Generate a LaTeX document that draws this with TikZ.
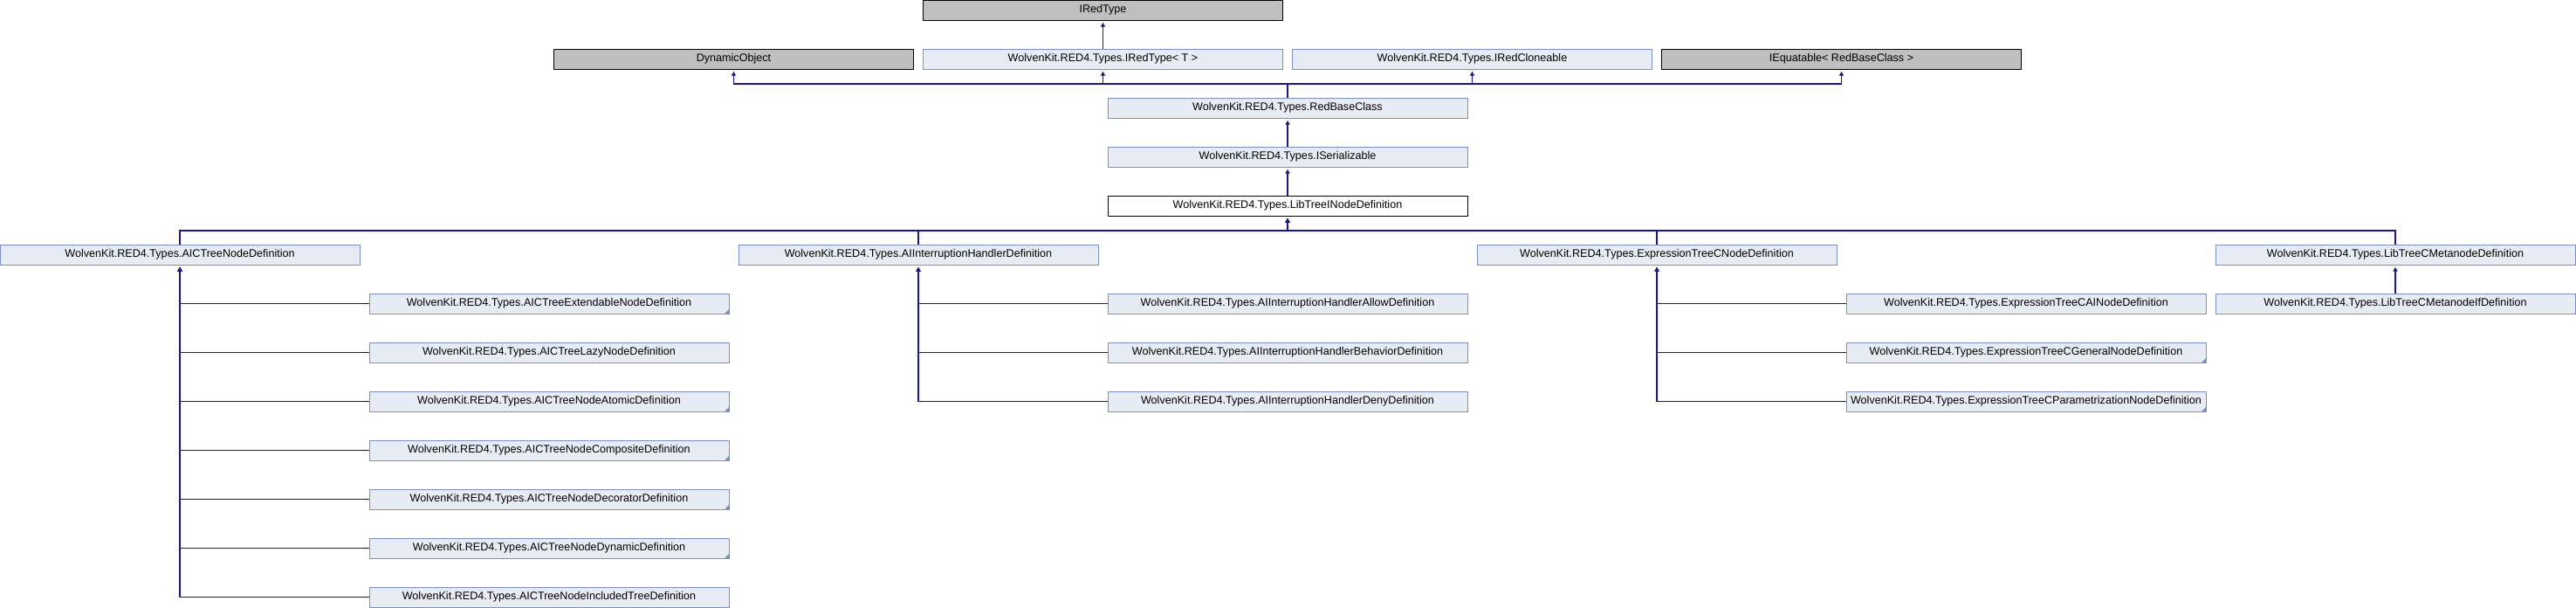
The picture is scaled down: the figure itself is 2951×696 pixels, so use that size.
\documentclass[tikz,border=0pt]{standalone}
\usepackage{fontspec}
\setmainfont{Liberation Sans}
\usetikzlibrary{arrows.meta}
\definecolor{boxfill}{RGB}{232,236,244}
\definecolor{boxedge}{RGB}{122,144,204}
\definecolor{inhline}{RGB}{24,24,150}
\tikzset{
  cls/.style={shape=rectangle,draw=boxedge,fill=boxfill,line width=0.5pt,minimum width=206pt,minimum height=11.5pt,inner sep=0pt,font=\fontsize{6.3}{7}\selectfont},
  ext/.style={cls,draw=black,fill=black!25},
  cur/.style={cls,draw=black,fill=white},
  trunc/.style={path picture={\fill[boxedge] (path picture bounding box.south east) -- ++(-2.4pt,0) -- ++(2.4pt,2.4pt) -- cycle;}},
  inh/.style={draw=inhline,line width=0.55pt,-{Triangle[width=2.6pt,length=2.4pt]},shorten >=1.2pt}
}

\begin{document}
\begin{tikzpicture}[x=0.5pt,y=-0.5pt]
\useasboundingbox (0,0) rectangle (2951,696);
\node[ext] (0) at (1263.5,11.5) {IRedType};
\node[ext] (1) at (840.5,67.5) {DynamicObject};
\node[cls] (2) at (1263.5,67.5) {WolvenKit.RED4.Types.IRedType< T >};
\node[cls] (3) at (1686.5,67.5) {WolvenKit.RED4.Types.IRedCloneable};
\node[ext] (4) at (2109.5,67.5) {IEquatable< RedBaseClass >};
\node[cls] (5) at (1475,123.5) {WolvenKit.RED4.Types.RedBaseClass};
\node[cls] (6) at (1475,179.5) {WolvenKit.RED4.Types.ISerializable};
\node[cur] (7) at (1475,235.5) {WolvenKit.RED4.Types.LibTreeINodeDefinition};
\node[cls] (8) at (206,291.5) {WolvenKit.RED4.Types.AICTreeNodeDefinition};
\node[cls] (9) at (1052,291.5) {WolvenKit.RED4.Types.AIInterruptionHandlerDefinition};
\node[cls] (10) at (1898,291.5) {WolvenKit.RED4.Types.ExpressionTreeCNodeDefinition};
\node[cls] (11) at (2744,291.5) {WolvenKit.RED4.Types.LibTreeCMetanodeDefinition};
\node[cls,trunc] (12) at (629,347.5) {WolvenKit.RED4.Types.AICTreeExtendableNodeDefinition};
\node[cls] (13) at (629,403.5) {WolvenKit.RED4.Types.AICTreeLazyNodeDefinition};
\node[cls,trunc] (14) at (629,459.5) {WolvenKit.RED4.Types.AICTreeNodeAtomicDefinition};
\node[cls,trunc] (15) at (629,515.5) {WolvenKit.RED4.Types.AICTreeNodeCompositeDefinition};
\node[cls,trunc] (16) at (629,571.5) {WolvenKit.RED4.Types.AICTreeNodeDecoratorDefinition};
\node[cls,trunc] (17) at (629,627.5) {WolvenKit.RED4.Types.AICTreeNodeDynamicDefinition};
\node[cls] (18) at (629,683.5) {WolvenKit.RED4.Types.AICTreeNodeIncludedTreeDefinition};
\node[cls] (19) at (1475,347.5) {WolvenKit.RED4.Types.AIInterruptionHandlerAllowDefinition};
\node[cls] (20) at (1475,403.5) {WolvenKit.RED4.Types.AIInterruptionHandlerBehaviorDefinition};
\node[cls] (21) at (1475,459.5) {WolvenKit.RED4.Types.AIInterruptionHandlerDenyDefinition};
\node[cls] (22) at (2321,347.5) {WolvenKit.RED4.Types.ExpressionTreeCAINodeDefinition};
\node[cls,trunc] (23) at (2321,403.5) {WolvenKit.RED4.Types.ExpressionTreeCGeneralNodeDefinition};
\node[cls,trunc] (24) at (2321,459.5) {WolvenKit.RED4.Types.ExpressionTreeCParametrizationNodeDefinition};
\node[cls] (25) at (2744,347.5) {WolvenKit.RED4.Types.LibTreeCMetanodeIfDefinition};
\coordinate (b0) at (0,96);
\coordinate (b1) at (0,264);

\draw[inh] (2.north) -- (0.south);
\draw[inh] (5.north) -- (5.north |- b0) -| (1.south);
\draw[inh] (5.north) -- (5.north |- b0) -| (2.south);
\draw[inh] (5.north) -- (5.north |- b0) -| (3.south);
\draw[inh] (5.north) -- (5.north |- b0) -| (4.south);
\draw[inh] (6.north) -- (5.south);
\draw[inh] (7.north) -- (6.south);
\draw[inh] (8.north) -- (8.north |- b1) -| (7.south);
\draw[inh] (9.north) -- (9.north |- b1) -| (7.south);
\draw[inh] (10.north) -- (10.north |- b1) -| (7.south);
\draw[inh] (11.north) -- (11.north |- b1) -| (7.south);
\draw[inh] (12.west) -| (8.south);
\draw[inh] (13.west) -| (8.south);
\draw[inh] (14.west) -| (8.south);
\draw[inh] (15.west) -| (8.south);
\draw[inh] (16.west) -| (8.south);
\draw[inh] (17.west) -| (8.south);
\draw[inh] (18.west) -| (8.south);
\draw[inh] (19.west) -| (9.south);
\draw[inh] (20.west) -| (9.south);
\draw[inh] (21.west) -| (9.south);
\draw[inh] (22.west) -| (10.south);
\draw[inh] (23.west) -| (10.south);
\draw[inh] (24.west) -| (10.south);
\draw[inh] (25.north) -- (11.south);
\end{tikzpicture}
\end{document}
